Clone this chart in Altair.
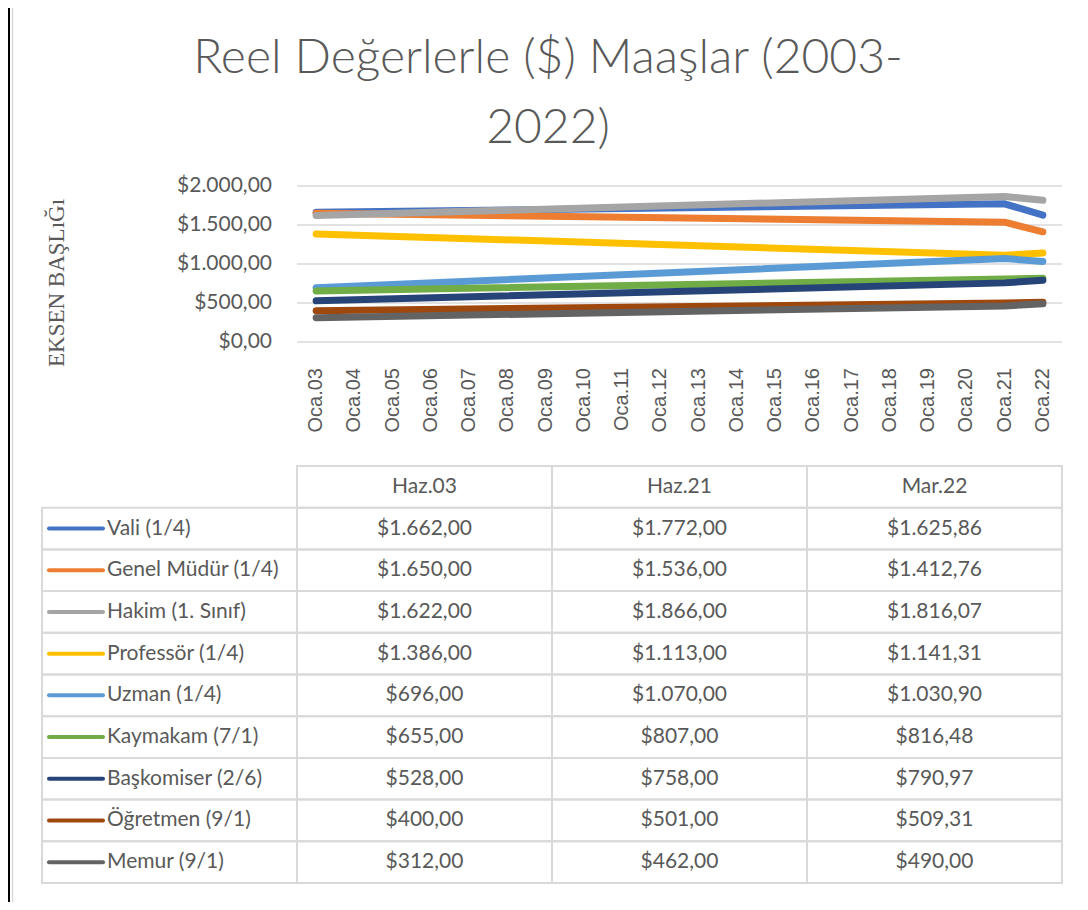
import altair as alt
import pandas as pd

# ---------------- data ----------------
title_text = "Reel Değerlerle ($) Maaşlar (2003-\n2022)"
y_title = "EKSEN BAŞLıĞı"

series = ["Vali (1/4)", "Genel Müdür (1/4)", "Hakim (1. Sınıf)", "Professör (1/4)",
          "Uzman (1/4)", "Kaymakam (7/1)", "Başkomiser (2/6)", "Öğretmen (9/1)", "Memur (9/1)"]
colors = ["#4472C4", "#ED7D31", "#A5A5A5", "#FFC000", "#5B9BD5",
          "#70AD47", "#264478", "#9E480E", "#636363"]

periods = ["Haz.03", "Haz.21", "Mar.22"]
period_years = [2003, 2021, 2022]

vals_haz03 = [1662.00, 1650.00, 1622.00, 1386.00, 696.00, 655.00, 528.00, 400.00, 312.00]
vals_haz21 = [1772.00, 1536.00, 1866.00, 1113.00, 1070.00, 807.00, 758.00, 501.00, 462.00]
vals_mar22 = [1625.86, 1412.76, 1816.07, 1141.31, 1030.90, 816.48, 790.97, 509.31, 490.00]

axis_years = list(range(2003, 2023))
axis_labels = ["Oca.03", "Oca.04", "Oca.05", "Oca.06", "Oca.07", "Oca.08", "Oca.09",
               "Oca.10", "Oca.11", "Oca.12", "Oca.13", "Oca.14", "Oca.15", "Oca.16",
               "Oca.17", "Oca.18", "Oca.19", "Oca.20", "Oca.21", "Oca.22"]

y_ticks = [0, 500, 1000, 1500, 2000]
y_tick_labels = ["$0,00", "$500,00", "$1.000,00", "$1.500,00", "$2.000,00"]

# ---------------- helpers ----------------
def fmt(v):
    s = f"{v:,.2f}"
    return "$" + s.replace(",", "#").replace(".", ",").replace("#", ".")

all_vals = [vals_haz03, vals_haz21, vals_mar22]

rows = []
for i, s in enumerate(series):
    for j, p in enumerate(periods):
        rows.append({"series": s, "year": period_years[j], "value": all_vals[j][i], "ord": i})
df_lines = pd.DataFrame(rows)

x_lo = axis_years[0] - 0.5
x_hi = axis_years[-1] + 0.5
df_ticks = pd.DataFrame({"v": y_ticks, "label": y_tick_labels, "x0": x_lo, "x1": x_hi})
df_years = pd.DataFrame({"year": axis_years, "label": axis_labels, "base": y_ticks[0]})

GREY = "#595959"
GRID = "#d9d9d9"

xs = alt.Scale(domain=[x_lo, x_hi], range=[289, 1054], nice=False, zero=False)
ys = alt.Scale(domain=[y_ticks[0], y_ticks[-1]], range=[334, 178], nice=False, zero=False)
cs = alt.Scale(domain=series, range=colors)

grid = alt.Chart(df_ticks).mark_rule(color=GRID, strokeWidth=1.5).encode(
    x=alt.X("x0:Q", scale=xs, axis=None), x2="x1:Q",
    y=alt.Y("v:Q", scale=ys, axis=None))

lines = alt.Chart(df_lines).mark_line(strokeWidth=7, strokeCap="round", strokeJoin="round").encode(
    x=alt.X("year:Q", scale=xs, axis=None),
    y=alt.Y("value:Q", scale=ys, axis=None),
    color=alt.Color("series:N", scale=cs, legend=None),
    order="ord:O")

ylabels = alt.Chart(df_ticks).mark_text(align="right", baseline="middle", dx=-25,
                                        font="Lato", fontSize=21, color=GREY).encode(
    x=alt.X("x0:Q", scale=xs, axis=None),
    y=alt.Y("v:Q", scale=ys, axis=None),
    text="label:N")

xlabels = alt.Chart(df_years).mark_text(angle=270, align="right", baseline="middle", dx=-26,
                                        font="Liberation Sans", fontSize=20, color=GREY).encode(
    x=alt.X("year:Q", scale=xs, axis=None),
    y=alt.Y("base:Q", scale=ys, axis=None),
    text="label:N")

plot_group = alt.layer(grid, lines, ylabels, xlabels)

# ---------------- table ----------------
col_keys = ["Seri"] + periods
row_keys = ["Başlık"] + series

cells = []
for r in row_keys:
    for c in col_keys:
        if r == "Başlık" and c == "Seri":
            continue
        if r == "Başlık":
            t = c
        elif c == "Seri":
            t = ""
        else:
            t = fmt(all_vals[periods.index(c)][series.index(r)])
        cells.append({"row": r, "col": c, "text": t})
df_cells = pd.DataFrame(cells)
df_series = pd.DataFrame({"row": series, "col": "Seri", "series": series})

xb = alt.Scale(domain=col_keys, range=[34, 1054], paddingInner=0, paddingOuter=0)
yb = alt.Scale(domain=row_keys, range=[458, 875], paddingInner=0, paddingOuter=0)

cell_rects = alt.Chart(df_cells).mark_rect(filled=False, color=GRID, strokeWidth=2).encode(
    x=alt.X("col:N", scale=xb, axis=None),
    y=alt.Y("row:N", scale=yb, axis=None))

cell_text = alt.Chart(df_cells).mark_text(align="center", baseline="middle",
                                          font="Lato", fontSize=21, color=GREY).encode(
    x=alt.X("col:N", scale=xb, axis=None),
    y=alt.Y("row:N", scale=yb, axis=None),
    text="text:N")

series_text = alt.Chart(df_series).mark_text(align="left", baseline="middle", dx=65,
                                             font="Lato", fontSize=21, color=GREY).encode(
    x=alt.X("col:N", scale=xb, axis=None, bandPosition=0),
    y=alt.Y("row:N", scale=yb, axis=None),
    text="series:N")

legend_rules = alt.Chart(df_series).mark_rule(strokeWidth=4, strokeCap="round",
                                              xOffset=7, x2Offset=-66.5).encode(
    x=alt.X("col:N", scale=xb, axis=None, bandPosition=0),
    x2=alt.X2("col:N"),
    y=alt.Y("row:N", scale=yb, axis=None),
    color=alt.Color("series:N", scale=cs, legend=None))

table_group = alt.layer(cell_rects, cell_text, series_text, legend_rules)

# ---------------- decorations ----------------
one = pd.DataFrame({"t": [title_text], "y": [y_title]})

title = alt.Chart(one).mark_text(align="center", baseline="alphabetic", lineBreak="\n",
                                 lineHeight=70, font="Lato", fontWeight=300, fontSize=48,
                                 color=GREY).encode(
    text="t:N", x=alt.value(540), y=alt.value(65))

ytitle = alt.Chart(one).mark_text(align="center", baseline="middle", angle=270,
                                  font="Liberation Serif", fontSize=23, color=GREY).encode(
    text="y:N", x=alt.value(49), y=alt.value(275))

border_black = alt.Chart(one).mark_rule(color="black", strokeWidth=2).encode(
    x=alt.value(1), y=alt.value(0), y2=alt.value(894))
border_grey = alt.Chart(one).mark_rule(color=GRID, strokeWidth=1.5).encode(
    x=alt.value(4.5), y=alt.value(0), y2=alt.value(894))

chart = alt.layer(border_black, border_grey, title, ytitle, plot_group, table_group).resolve_scale(
    x="independent", y="independent"
).properties(
    width=1072, height=894, padding=0, autosize=alt.AutoSizeParams(type="none")
).configure_view(stroke=None)

chart.save("out.html", embed_options={"renderer": "svg", "actions": False})
